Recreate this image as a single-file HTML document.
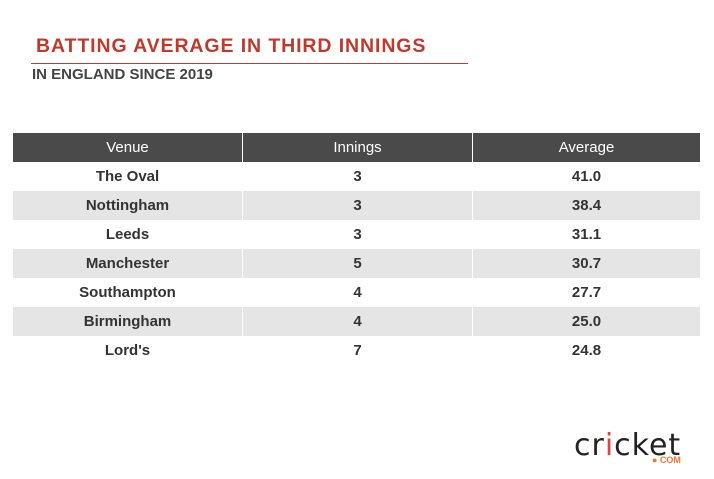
<!DOCTYPE html>
<html><head><style>
body{margin:0;width:714px;height:479px;background:#fff;position:relative;font-family:"Liberation Sans",sans-serif;overflow:hidden}
.t{position:absolute;left:36px;top:35px;font-size:19.5px;font-weight:bold;color:#c0392b;letter-spacing:0.9px}
.ln{position:absolute;left:31px;top:63px;width:437px;height:1px;background:#b04038}
.s{position:absolute;left:32px;top:66px;font-size:15px;font-weight:bold;color:#444}
table{position:absolute;left:13px;top:133px;width:687px;border-collapse:collapse;font-size:15px;color:#222}
td,th{height:29px;padding:0;text-align:center}
td{font-weight:bold;color:#333}
th{background:#4a4a4a;color:#fff;font-weight:normal;font-size:15px}
th+th,td+td{border-left:1px solid #fff}
tr:nth-child(odd) td{background:#e5e5e5}
.logo{position:absolute;left:574px;top:428px;font-size:30px;color:#222;letter-spacing:1px;font-family:"DejaVu Sans",sans-serif}
.com{position:absolute;left:652px;top:455px;font-size:9px;font-weight:bold;color:#e8772e}
</style></head><body>
<div class="t">BATTING AVERAGE IN THIRD INNINGS</div>
<div class="ln"></div>
<div class="s">IN ENGLAND SINCE 2019</div>
<table>
<tr><th style="width:229px">Venue</th><th style="width:229px">Innings</th><th>Average</th></tr>
<tr><td>The Oval</td><td>3</td><td>41.0</td></tr>
<tr><td>Nottingham</td><td>3</td><td>38.4</td></tr>
<tr><td>Leeds</td><td>3</td><td>31.1</td></tr>
<tr><td>Manchester</td><td>5</td><td>30.7</td></tr>
<tr><td>Southampton</td><td>4</td><td>27.7</td></tr>
<tr><td>Birmingham</td><td>4</td><td>25.0</td></tr>
<tr><td>Lord's</td><td>7</td><td>24.8</td></tr>
</table>
<div class="logo">cr<span style="color:#d9463a">i</span>cket</div>
<div class="com">● COM</div>
</body></html>
